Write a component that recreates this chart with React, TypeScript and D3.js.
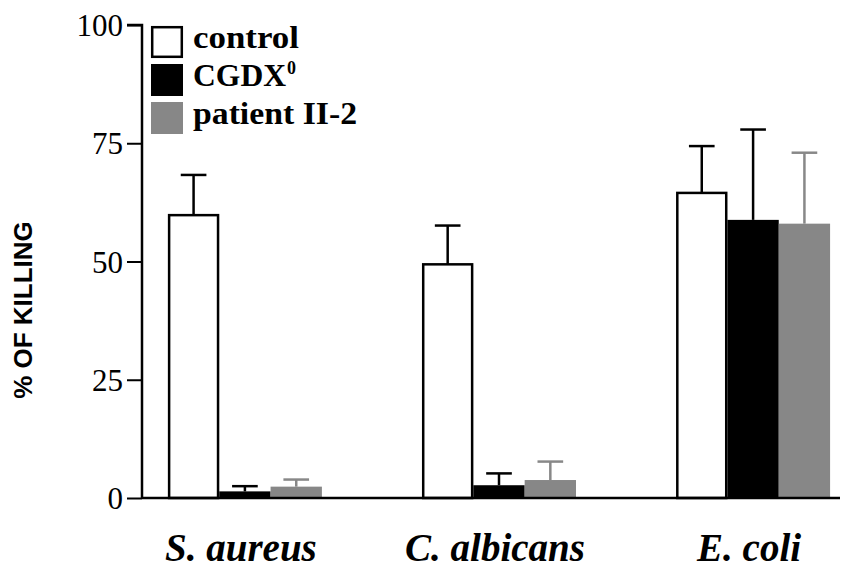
import { useRef, useEffect } from 'react'
import * as d3 from 'd3'

const organisms = ['S. aureus', 'C. albicans', 'E. coli']
const seriesNames = ['control', 'CGDX', 'patient II-2']
const controlValues = [59.8, 49.4, 64.5]
const controlErrors = [68.3, 57.6, 74.4]
const cgdValues = [1.4, 2.7, 58.8]
const cgdErrors = [2.5, 5.2, 77.9]
const patientValues = [2.4, 3.8, 58.0]
const patientErrors = [3.9, 7.7, 73.0]
const yTicks = [0, 25, 50, 75, 100]

const fills = ['#ffffff', '#000000', '#878787']
const errColors = ['#000000', '#000000', '#888888']

const width = 848
const height = 572

export default function App() {
  const svgRef = useRef<SVGSVGElement>(null)

  useEffect(() => {
    if (!svgRef.current) return
    const svg = d3.select(svgRef.current)
    svg.selectAll('*').remove()

    const values = [controlValues, cgdValues, patientValues]
    const errors = [controlErrors, cgdErrors, patientErrors]

    const axisX = 142
    const yScale = d3.scaleLinear().domain([0, 100]).range([498, 25])
    const xScale = d3.scaleBand<string>()
      .domain(organisms)
      .range([axisX, 856])
      .paddingInner(0.394)
      .paddingOuter(0.102)
    const inner = d3.scaleBand<string>()
      .domain(seriesNames)
      .range([0, xScale.bandwidth()])

    const serif = '"Liberation Serif", "Times New Roman", serif'

    // bars + one-sided error bars
    seriesNames.forEach((s, si) => {
      organisms.forEach((o, oi) => {
        const x = (xScale(o) ?? 0) + (inner(s) ?? 0)
        const bw = inner.bandwidth()
        const v = values[si][oi]
        const e = errors[si][oi]
        const cx = x + bw / 2
        svg.append('line')
          .attr('x1', cx).attr('x2', cx)
          .attr('y1', yScale(v)).attr('y2', yScale(e))
          .attr('stroke', errColors[si]).attr('stroke-width', 2.5)
        svg.append('line')
          .attr('x1', cx - bw / 4).attr('x2', cx + bw / 4)
          .attr('y1', yScale(e)).attr('y2', yScale(e))
          .attr('stroke', errColors[si]).attr('stroke-width', 2.5)
        if (si === 0) {
          svg.append('rect')
            .attr('x', x + 1.2).attr('y', yScale(v))
            .attr('width', bw - 2.4).attr('height', yScale(0) - yScale(v))
            .attr('fill', fills[si]).attr('stroke', '#000').attr('stroke-width', 2.5)
        } else {
          svg.append('rect')
            .attr('x', x).attr('y', yScale(v))
            .attr('width', bw).attr('height', yScale(0) - yScale(v))
            .attr('fill', fills[si])
        }
      })
    })

    // y axis
    const yAxis = svg.append('g')
      .attr('transform', `translate(${axisX},0)`)
      .call(d3.axisLeft(yScale).tickValues(yTicks).tickSize(15).tickPadding(4).tickFormat(d3.format('d')))
    yAxis.select('.domain').attr('stroke-width', 2.5).attr('d', `M-15,${yScale(100)}H0V${yScale(0)}`)
    yAxis.selectAll('line').attr('stroke-width', 2)
    yAxis.selectAll('text')
      .attr('font-family', serif).attr('font-size', 31).attr('fill', '#000')
      .attr('dy', '0.34em')

    // x axis baseline
    svg.append('line')
      .attr('x1', axisX).attr('x2', width)
      .attr('y1', yScale(0)).attr('y2', yScale(0))
      .attr('stroke', '#000').attr('stroke-width', 2.5)

    // x labels
    organisms.forEach((o) => {
      svg.append('text')
        .attr('x', (xScale(o) ?? 0) + xScale.bandwidth() / 2 - 4)
        .attr('y', 561)
        .attr('text-anchor', 'middle')
        .attr('font-family', serif).attr('font-size', 39)
        .attr('font-weight', 'bold').attr('font-style', 'italic')
        .text(o)
    })

    // y label
    svg.append('text')
      .attr('transform', 'translate(32,310) rotate(-90)')
      .attr('text-anchor', 'middle')
      .attr('font-family', '"Liberation Sans", Arial, sans-serif')
      .attr('font-size', 26).attr('font-weight', 'bold')
      .text('% OF KILLING')

    // legend
    const legend = svg.append('g').attr('transform', 'translate(151,26)')
    const textLengths = [106, 93, 164]
    seriesNames.forEach((s, i) => {
      const gy = i * 38
      const inset = i === 0 ? 1.2 : 0
      legend.append('rect')
        .attr('x', inset).attr('y', gy + inset)
        .attr('width', 32 - 2 * inset).attr('height', 32 - 2 * inset)
        .attr('fill', fills[i])
        .attr('stroke', i === 0 ? '#000' : 'none').attr('stroke-width', 2.5)
      legend.append('text')
        .attr('x', 42).attr('y', gy + 22)
        .attr('font-family', serif).attr('font-size', 32).attr('font-weight', 'bold')
        .attr('textLength', textLengths[i]).attr('lengthAdjust', 'spacingAndGlyphs')
        .text(s)
      if (i === 1) {
        legend.append('text')
          .attr('x', 42 + textLengths[i] + 1).attr('y', gy + 10)
          .attr('font-family', serif).attr('font-size', 18).attr('font-weight', 'bold')
          .text('0')
      }
    })
  }, [])

  return (
    <div style={{ margin: -8 }}>
      <svg ref={svgRef} width={width} height={height} style={{ display: 'block', background: '#fff' }} />
    </div>
  )
}
